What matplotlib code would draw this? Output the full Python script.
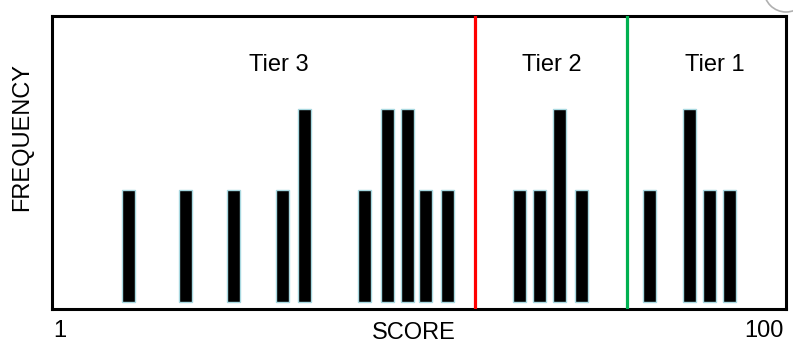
import matplotlib
matplotlib.use("Agg")
import matplotlib.pyplot as plt
from matplotlib.patches import Ellipse

plt.rcParams['font.family'] = ['Liberation Sans', 'DejaVu Sans']

# data
scores = [11.3, 18.9, 25.4, 32.0, 35.0, 43.1, 46.3, 48.9, 51.4, 54.4,
          64.1, 66.8, 69.5, 72.4, 81.6, 87.0, 89.7, 92.5]
freqs = [2, 2, 2, 2, 3, 2, 3, 3, 2, 2,
         2, 2, 3, 2, 2, 3, 2, 2]
bar_base = 0.62
tier_cuts = [58.1, 78.6]
tier_colors = ['#ff0000', '#00b050']
tier_labels = ['Tier 3', 'Tier 2', 'Tier 1']
tier_label_x = [31.6, 68.5, 90.4]
x_min, x_max = 1, 100

fig = plt.figure(figsize=(7.93, 3.45), dpi=100)
ax = fig.add_axes([52.5/793, 1 - 308.5/345, 733/793, 293/345])

heights = [f - bar_base for f in freqs]
ax.bar(scores, heights, bottom=bar_base, width=1.75, color='black',
       edgecolor='#a8d8e0', linewidth=1.0, zorder=2)

for c, col in zip(tier_cuts, tier_colors):
    ax.axvline(c, color=col, linewidth=2.3, zorder=3)

for lbl, x in zip(tier_labels, tier_label_x):
    ax.text(x, 3.54, lbl, ha='center', va='center', fontsize=17)

ax.set_xlim(x_min, x_max)
ax.set_ylim(0.537, 4.154)
ax.set_xticks([])
ax.set_yticks([])
for s in ax.spines.values():
    s.set_linewidth(2.2)
    s.set_color('black')

fig.text(53/793, 1 - 331/345, str(x_min), ha='left', va='center', fontsize=17)
fig.text(784/793, 1 - 331/345, str(x_max), ha='right', va='center', fontsize=17)
fig.text(414/793, 1 - 333/345, 'SCORE', ha='center', va='center', fontsize=17)
fig.text(22.5/793, 1 - 137/345, 'FREQUENCY', ha='center', va='center',
         rotation=90, fontsize=17)

circ = Ellipse((786/793, 1 + 10/345), 2*22/793, 2*22/345,
               transform=fig.transFigure, fill=False,
               edgecolor='#b0b0b0', linewidth=1.2)
fig.patches.append(circ)

fig.savefig('out.png', dpi=100)
